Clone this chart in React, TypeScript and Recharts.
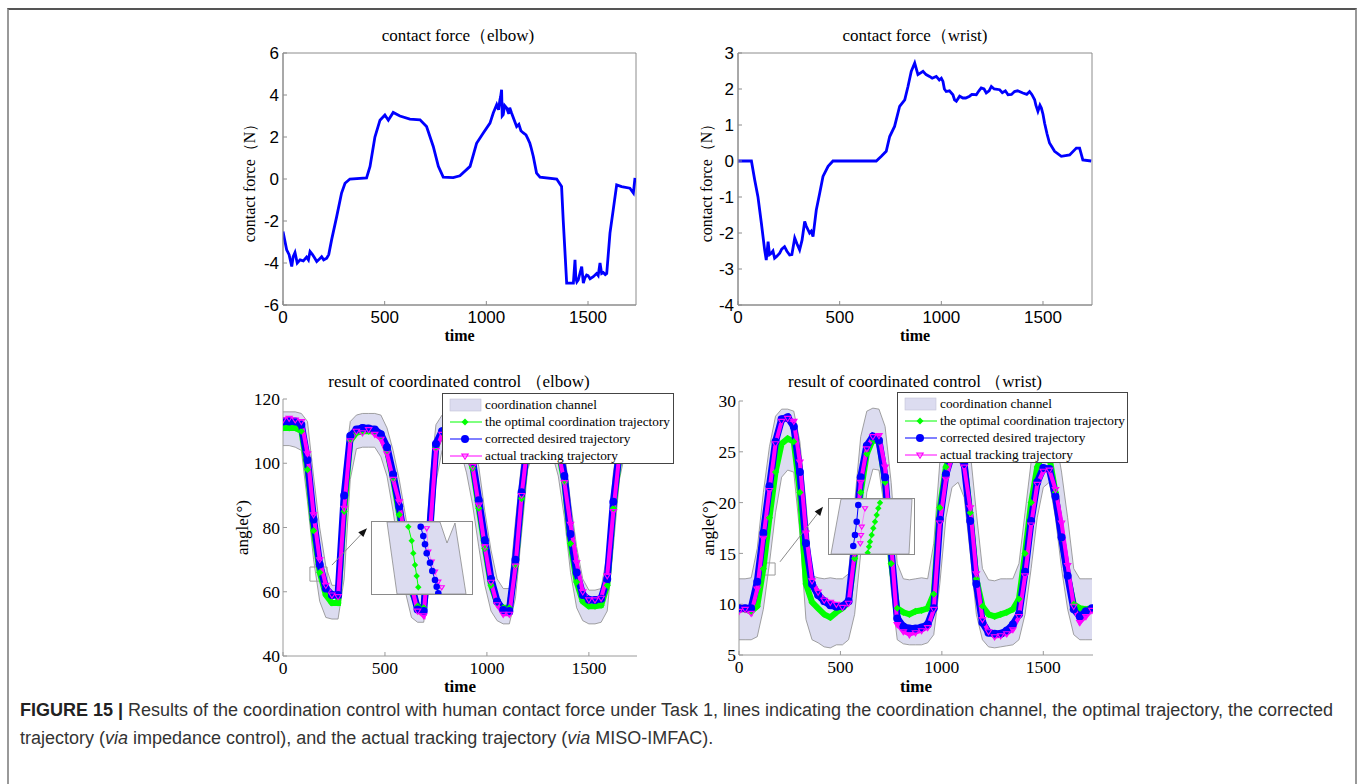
import React from 'react';
import {
  ComposedChart,
  LineChart,
  Line,
  Area,
  XAxis,
  YAxis,
  Legend,
  ReferenceArea,
  ReferenceLine,
} from 'recharts';

const SERIF = '"Liberation Serif", "Times New Roman", serif';
const SANS = '"Liberation Sans", Arial, sans-serif';
const CHANNEL_FILL = '#dcdcf0';

// ---- top row: contact force (N) ----
const elbowForceTime = [0, 18, 30, 43, 50, 59, 70, 84, 100, 116, 125, 133, 145, 155, 166, 175, 190, 200, 215, 225, 239, 264, 288, 305, 329, 411, 428, 452, 477, 501, 518, 542, 575, 624, 674, 706, 739, 764, 788, 837, 870, 920, 952, 985, 1018, 1034, 1051, 1060, 1067, 1070, 1075, 1078, 1083, 1090, 1100, 1110, 1115, 1124, 1149, 1160, 1170, 1182, 1195, 1205, 1214, 1220, 1231, 1247, 1264, 1346, 1370, 1378, 1387, 1395, 1428, 1436, 1440, 1445, 1452, 1460, 1469, 1477, 1485, 1493, 1500, 1510, 1526, 1542, 1550, 1559, 1567, 1575, 1585, 1592, 1608, 1624, 1641, 1665, 1706, 1723, 1731];
const elbowForceValue = [-2.5, -3.37, -3.6, -4.17, -3.7, -3.5, -4.0, -3.85, -3.9, -3.72, -3.85, -3.45, -3.6, -3.75, -3.93, -3.85, -3.7, -3.85, -3.77, -3.6, -2.9, -1.79, -0.67, -0.2, 0, 0.05, 0.6, 2.0, 2.8, 3.05, 2.8, 3.17, 3.0, 2.85, 2.82, 2.5, 1.55, 0.6, 0.09, 0.07, 0.15, 0.6, 1.7, 2.19, 2.66, 3.14, 3.54, 3.3, 3.78, 3.9, 4.25, 3.0, 3.06, 3.5, 3.38, 3.1, 3.4, 3.14, 2.5, 2.6, 2.3, 2.19, 2.1, 1.9, 1.7, 1.5, 1.07, 0.28, 0.09, 0, -0.36, -1.95, -3.53, -4.96, -4.96, -3.85, -4.7, -4.9, -4.8, -4.5, -4.17, -4.96, -4.7, -4.57, -4.6, -4.75, -4.65, -4.5, -4.6, -4.0, -4.5, -4.45, -4.55, -4.5, -2.58, -1.47, -0.28, -0.36, -0.44, -0.67, 0.05];

const wristForceTime = [0, 66, 82, 98, 115, 131, 139, 148, 155, 164, 172, 180, 190, 205, 215, 229, 240, 254, 265, 279, 290, 303, 315, 328, 335, 352, 360, 369, 385, 402, 418, 443, 467, 680, 705, 729, 746, 770, 795, 820, 836, 852, 869, 885, 910, 925, 942, 955, 975, 990, 1000, 1008, 1015, 1024, 1040, 1057, 1065, 1074, 1090, 1106, 1120, 1139, 1150, 1172, 1185, 1196, 1210, 1221, 1235, 1246, 1260, 1287, 1300, 1315, 1328, 1345, 1360, 1375, 1401, 1420, 1434, 1445, 1459, 1465, 1475, 1485, 1492, 1500, 1508, 1520, 1532, 1557, 1590, 1631, 1664, 1680, 1696, 1737];
const wristForceValue = [0, 0, -0.52, -0.99, -1.73, -2.47, -2.75, -2.24, -2.6, -2.56, -2.5, -2.7, -2.65, -2.56, -2.45, -2.38, -2.5, -2.61, -2.6, -2.14, -2.3, -2.47, -2.2, -1.68, -1.8, -2.0, -1.95, -2.1, -1.36, -0.89, -0.43, -0.15, 0, 0, 0.13, 0.27, 0.68, 0.96, 1.52, 1.7, 2.07, 2.49, 2.72, 2.4, 2.49, 2.4, 2.35, 2.3, 2.35, 2.25, 2.3, 2.21, 2.0, 1.93, 1.95, 1.84, 1.7, 1.66, 1.8, 1.75, 1.75, 1.8, 1.85, 1.84, 1.95, 2.03, 2.0, 1.89, 1.95, 2.07, 2.0, 1.98, 1.9, 1.95, 1.84, 1.85, 1.93, 1.95, 1.89, 1.85, 1.93, 1.85, 1.7, 1.55, 1.38, 1.55, 1.47, 1.3, 1.05, 0.75, 0.5, 0.27, 0.13, 0.17, 0.36, 0.36, 0.03, 0];

const timeTicks = [0, 500, 1000, 1500];
const elbowForceTicks = [-6, -4, -2, 0, 2, 4, 6];
const wristForceTicks = [-4, -3, -2, -1, 0, 1, 2, 3];

// ---- bottom row: joint angles (deg) ----
const angleTime = [0, 30, 60, 90, 120, 150, 180, 210, 240, 270, 300, 330, 360, 390, 420, 450, 480, 510, 540, 570, 600, 630, 660, 690, 720, 750, 780, 810, 840, 870, 900, 930, 960, 990, 1020, 1050, 1080, 1110, 1140, 1170, 1200, 1230, 1260, 1290, 1320, 1350, 1380, 1410, 1440, 1470, 1500, 1530, 1560, 1590, 1620, 1650, 1680, 1710, 1740];

const elbowOptimal = [111, 111, 111, 110, 98, 79, 66, 59, 56.5, 56.5, 85, 107, 109.5, 110, 110, 110, 108.5, 104, 95, 84, 71, 60, 55.5, 55, 80, 105, 109.5, 110, 110, 109, 105, 98.5, 86, 73.5, 62, 56.5, 55, 55, 68, 89, 106, 109.5, 110, 110, 109, 104, 94, 75, 63, 57, 55.5, 55.5, 55.8, 62, 86, 102, 109, 110, 110];
const elbowCorrected = [113, 113, 113, 112, 101, 82.5, 68.5, 61, 59, 59, 90, 108.5, 110.5, 111, 110.8, 110.5, 109, 105, 96.5, 86.5, 74, 62, 54.5, 54, 80, 106, 110, 111, 111, 110, 107, 100.5, 88.5, 76, 64, 57, 54.3, 54, 70, 91, 107, 110.5, 111, 111, 110, 106, 96, 78, 66, 59, 57.5, 57.4, 57.8, 64, 88, 104, 110, 111, 111];
const elbowActual = [113.5, 114, 113.5, 113, 103, 84, 70, 62, 59, 58.5, 86, 107, 110, 109.5, 110.5, 109, 107.5, 103, 95, 88, 75, 62, 54, 52.5, 78, 104, 109, 110.5, 110, 109.5, 105, 99, 87, 74, 63, 56, 53, 53, 68, 90, 106, 110, 111, 110.5, 109, 104, 94, 81, 69, 60, 57.5, 57.5, 58, 65, 85, 103, 110, 111, 111];
const elbowChannelLow = [105.5, 105.5, 105, 104, 88, 70, 57, 52, 51.5, 51.5, 64, 95, 104.5, 105, 105, 105, 102, 96, 85, 72, 60, 52, 50.5, 50.5, 62, 94, 104, 105, 105, 104, 97, 87, 74, 62, 54, 51, 50, 50, 58, 78, 98, 104, 105, 105, 103, 96, 83, 66, 55, 51, 50, 50, 50.5, 54, 74, 95, 104, 105, 105];
const elbowChannelHigh = [116, 116, 116, 115.5, 113, 96, 80, 68, 62, 62, 98, 113, 115, 115.5, 115.5, 115.5, 115, 111, 104, 95, 84, 72, 62, 61, 94, 112, 115, 115.5, 115.5, 115, 112, 107, 99, 85, 73, 64, 61, 61, 82, 100, 112, 115, 115.5, 115.5, 115, 111, 104, 88, 74, 64, 60.5, 60.5, 61, 72, 97, 110, 115, 115.5, 115.5];

const wristOptimal = [9.5, 9.5, 9.3, 9.8, 13.5, 18.5, 23, 25.8, 26.3, 26, 21, 12, 10.2, 9.6, 9, 8.7, 9.2, 9.6, 10.2, 14.5, 21, 24.8, 26.2, 26, 22, 14, 9.6, 9.2, 9, 9.3, 9.4, 9.6, 11, 19.5, 23.5, 25, 25, 24, 19, 12.5, 9.8, 9, 8.8, 9, 9.2, 9.5, 10.5, 15, 20, 23.5, 24.8, 24.5, 21, 16.5, 12.8, 10, 9.6, 9.5, 9.6];
const wristCorrected = [9.6, 9.6, 9.6, 12.2, 17, 21.6, 26, 28.2, 28.4, 27.5, 23, 16, 12, 10.9, 10.3, 9.9, 9.75, 9.8, 10.3, 15.8, 22.5, 25.6, 26.5, 26.1, 22.5, 15.3, 8.6, 7.8, 7.6, 7.6, 7.7, 8, 9.6, 18.3, 22.8, 24.8, 24.8, 23.8, 18.2, 12, 8.2, 7.2, 7.1, 7.1, 7.4, 8, 9, 13.2, 18.2, 22, 23.4, 23.3, 20.6, 16.6, 12.8, 9.5, 8.8, 9.3, 9.6];
const wristActual = [9.3, 9.5, 9.1, 11.5, 16.5, 21.2, 25.8, 28, 28.3, 28, 24, 17, 12.3, 11.2, 10.4, 10.2, 10, 9.7, 10.1, 15, 22, 25.3, 26.5, 26.6, 23.5, 16, 8, 7.3, 7, 7.2, 7.4, 7.7, 9.5, 18, 22.3, 24.6, 24.6, 23.5, 19.5, 13, 8.5, 7.3, 6.8, 6.9, 7.1, 7.5, 8.8, 12.8, 17.8, 21.8, 23.1, 23.2, 21.3, 18, 13.8, 9.8, 8.2, 8.8, 9.4];
const wristChannelLow = [6.5, 6.5, 6.5, 6.8, 9.5, 14, 19, 22.5, 23.2, 23, 17, 8.5, 6.5, 6.2, 5.8, 5.7, 6, 6, 6.5, 9, 15, 21, 23.3, 23.2, 19, 11.5, 6.5, 6.1, 6, 6, 6, 6.2, 7, 12, 18.5, 21.5, 22, 20.5, 15, 9, 6.5, 5.8, 5.7, 5.8, 5.9, 6, 6.5, 9, 13.5, 18.5, 21.5, 22, 18.5, 13.5, 9.5, 7, 6.5, 6.5, 6.5];
const wristChannelHigh = [12.5, 12.5, 12.6, 15.5, 21, 25.5, 28.5, 29.2, 29.2, 29, 26, 20, 12.8, 12.6, 12.5, 12.6, 12.5, 12.5, 13, 20, 26.5, 29, 29.3, 29.2, 27.5, 22, 14, 12.5, 12.4, 12.5, 12.6, 12.5, 16, 24, 27.5, 28.5, 28.5, 28, 25, 19, 13.5, 12.4, 12.3, 12.5, 12.5, 12.5, 14, 19, 24, 27, 28, 28, 26.5, 23, 18.5, 13.5, 12.5, 12.5, 12.5];

const elbowAngleTicks = [40, 60, 80, 100, 120];
const wristAngleTicks = [5, 10, 15, 20, 25, 30];

// ---- magnified insets (local coordinates of the inset box) ----
const elbowInsetBandX = [15, 25, 68, 75, 83, 94];
const elbowInsetBandLow = [72, 0, 0, 0, 0, 0];
const elbowInsetBandHigh = [72, 72, 72, 51, 71, 0];
const elbowInsetOptimalX = [36.3, 39.7, 41.3, 43, 44.7, 46.3];
const elbowInsetOptimalY = [67.3, 53.3, 40.7, 29, 18, 6.7];
const elbowInsetCorrectedX = [48.7, 51.3, 53, 54.7, 58, 60.3, 63, 64.7, 66.3];
const elbowInsetCorrectedY = [67.3, 58, 49.7, 40.7, 31.3, 23, 14, 7.3, 0.7];
const elbowInsetActualX = [54.7, 56.3, 59.7, 63, 66.3, 69.7];
const elbowInsetActualY = [65.7, 42.3, 32.3, 22.3, 12.3, 6.7];

const wristInsetBandX = [2, 12, 80, 83];
const wristInsetBandLow = [0, 0, 0, 55];
const wristInsetBandHigh = [0, 55, 55, 55];
const wristInsetOptimalX = [51, 49.3, 47.7, 46, 44.3, 42.7, 41, 40, 38.7];
const wristInsetOptimalY = [51.3, 45.7, 39, 32.3, 25.7, 19, 12.3, 7.3, 1.3];
const wristInsetCorrectedX = [29.3, 27.7, 26, 24.3];
const wristInsetCorrectedY = [49, 32.3, 19, 8];
const wristInsetActualX = [36, 32.7, 32, 31.3];
const wristInsetActualY = [45.7, 27.3, 19, 10.7];

const legendOrder = [
  'coordination channel',
  'the optimal coordination trajectory',
  'corrected desired trajectory',
  'actual tracking trajectory',
];

// ---- markers ----
const diamondDot = (s: number) => (p: any) => (
  <polygon
    key={`dm${p.index}`}
    points={`${p.cx},${p.cy - s} ${p.cx + s},${p.cy} ${p.cx},${p.cy + s} ${p.cx - s},${p.cy}`}
    fill="#00ff00"
  />
);
const circleDot = (r: number) => (p: any) => (
  <circle key={`c${p.index}`} cx={p.cx} cy={p.cy} r={r} fill="#0000ff" />
);
const triangleDot = (s: number) => (p: any) => (
  <polygon
    key={`t${p.index}`}
    points={`${p.cx - s},${p.cy - s * 0.6} ${p.cx + s},${p.cy - s * 0.6} ${p.cx},${p.cy + s}`}
    fill="none"
    stroke="#ff00ff"
    strokeWidth={1.1}
  />
);

function LegendIcon({ type }: { type: string }) {
  if (type === 'rect') {
    return (
      <svg width={34} height={14}>
        <rect x={1} y={1} width={31} height={12} fill={CHANNEL_FILL} stroke="#c4c4d6" strokeWidth={0.6} />
      </svg>
    );
  }
  const color = type === 'diamond' ? '#00ff00' : type === 'circle' ? '#0000ff' : '#ff00ff';
  const p = { cx: 16, cy: 7, index: 0 };
  return (
    <svg width={34} height={14}>
      <line x1={1} y1={7} x2={33} y2={7} stroke={color} strokeWidth={1} />
      {type === 'diamond' && diamondDot(3.5)(p)}
      {type === 'circle' && circleDot(4)(p)}
      {type === 'triangle' && triangleDot(3.2)(p)}
    </svg>
  );
}

const renderLegend = (props: any) => {
  const items = [...(props.payload ?? [])].sort(
    (a: any, b: any) => legendOrder.indexOf(a.value) - legendOrder.indexOf(b.value),
  );
  return (
    <div
      style={{
        width: '100%',
        height: '100%',
        boxSizing: 'border-box',
        background: '#fff',
        border: '1px solid #444',
        padding: '2px 0 0 6px',
        fontFamily: SERIF,
        fontSize: 13.3,
        color: '#000',
      }}
    >
      {items.map((it: any) => (
        <div key={it.value} style={{ display: 'flex', alignItems: 'center', height: 17.2, whiteSpace: 'nowrap' }}>
          <LegendIcon type={it.type} />
          <span style={{ marginLeft: 2 }}>{it.value}</span>
        </div>
      ))}
    </div>
  );
};

const ArrowShape = (props: any) => {
  const { x1, y1, x2, y2 } = props;
  const ang = Math.atan2(y2 - y1, x2 - x1);
  const len = 9;
  const w = 3.5;
  const bx = x2 - len * Math.cos(ang);
  const by = y2 - len * Math.sin(ang);
  const pts = `${x2},${y2} ${bx - w * Math.sin(ang)},${by + w * Math.cos(ang)} ${bx + w * Math.sin(ang)},${by - w * Math.cos(ang)}`;
  return (
    <g>
      <line x1={x1} y1={y1} x2={bx} y2={by} stroke="#8a8a8a" strokeWidth={1} />
      <polygon points={pts} fill="#111" />
    </g>
  );
};

interface ForceProps {
  time: number[];
  value: number[];
  xMax: number;
  yTicks: number[];
  yAxisWidth: number;
  marginLeft: number;
  marginRight: number;
}

function ForceChart({ time, value, xMax, yTicks, yAxisWidth, marginLeft, marginRight }: ForceProps) {
  const data = time.map((t, i) => ({ t, f: value[i] }));
  const axisStroke = '#8c8c8c';
  const tick = { fill: '#000', fontSize: 17, fontFamily: SANS };
  const yMin = yTicks[0];
  const yMax = yTicks[yTicks.length - 1];
  return (
    <LineChart width={470} height={350} data={data} margin={{ top: 43, right: marginRight, bottom: 15, left: marginLeft }}>
      <XAxis
        dataKey="t"
        type="number"
        domain={[0, xMax]}
        ticks={timeTicks}
        allowDataOverflow
        height={40}
        tickSize={-4}
        tickMargin={10}
        stroke={axisStroke}
        tick={tick}
        label={{ value: 'time', position: 'insideBottom', offset: 4, fill: '#000', fontSize: 16, fontWeight: 'bold', fontFamily: SERIF }}
      />
      <YAxis
        type="number"
        domain={[yMin, yMax]}
        ticks={yTicks}
        allowDataOverflow
        width={yAxisWidth}
        tickSize={-4}
        tickMargin={8}
        stroke={axisStroke}
        tick={tick}
        label={{ value: 'contact force（N）', angle: -90, position: 'center', fill: '#000', fontSize: 16, fontFamily: SERIF }}
      />
      <ReferenceArea x1={0} x2={xMax} y1={yMin} y2={yMax} fill="none" stroke={axisStroke} strokeWidth={1} ifOverflow="visible" />
      <Line dataKey="f" type="linear" stroke="#0000ff" strokeWidth={2.8} dot={false} isAnimationActive={false} />
    </LineChart>
  );
}

interface AngleProps {
  low: number[];
  high: number[];
  optimal: number[];
  corrected: number[];
  actual: number[];
  xMax: number;
  yTicks: number[];
  yAxisWidth: number;
  margin: { top: number; right: number; bottom: number; left: number };
  labelOffset: number;
  legendBox: { left: number; top: number; width: number; height: number };
  zoomBox: { x1: number; x2: number; y1: number; y2: number };
  arrow: { x: number; y: number }[];
}

function AngleChart(props: AngleProps) {
  const { low, high, optimal, corrected, actual, xMax, yTicks, yAxisWidth, margin, labelOffset, legendBox, zoomBox, arrow } = props;
  const data = angleTime.map((t, i) => ({
    t,
    channel: [low[i], high[i]],
    optimal: optimal[i],
    corrected: corrected[i],
    actual: actual[i],
  }));
  const axisStroke = '#9a9a9a';
  const tick = { fill: '#000', fontSize: 17.5, fontFamily: SERIF };
  return (
    <ComposedChart width={490} height={330} data={data} margin={margin}>
      <XAxis
        dataKey="t"
        type="number"
        domain={[0, xMax]}
        ticks={timeTicks}
        allowDataOverflow
        height={40}
        tickSize={-4}
        tickMargin={10}
        stroke={axisStroke}
        tick={tick}
        label={{ value: 'time', position: 'insideBottom', offset: labelOffset, fill: '#000', fontSize: 17, fontWeight: 'bold', fontFamily: SERIF }}
      />
      <YAxis
        type="number"
        domain={[yTicks[0], yTicks[yTicks.length - 1]]}
        ticks={yTicks}
        allowDataOverflow
        width={yAxisWidth}
        tickSize={-4}
        tickMargin={7}
        stroke={axisStroke}
        tick={tick}
        label={{ value: 'angle(°)', angle: -90, position: 'center', fill: '#000', fontSize: 17, fontFamily: SERIF }}
      />
      <Area
        dataKey="channel"
        name="coordination channel"
        type="linear"
        stroke="#8a8a8a"
        strokeWidth={0.8}
        fill={CHANNEL_FILL}
        fillOpacity={1}
        legendType="rect"
        isAnimationActive={false}
      />
      <Line dataKey="optimal" name="the optimal coordination trajectory" type="linear" stroke="#00ff00" strokeWidth={6} dot={diamondDot(3.6)} legendType="diamond" isAnimationActive={false} />
      <Line dataKey="corrected" name="corrected desired trajectory" type="linear" stroke="#0000ff" strokeWidth={7} dot={circleDot(4)} legendType="circle" isAnimationActive={false} />
      <Line dataKey="actual" name="actual tracking trajectory" type="linear" stroke="#ff00ff" strokeWidth={4} dot={triangleDot(3.2)} legendType="triangle" isAnimationActive={false} />
      <ReferenceArea x1={zoomBox.x1} x2={zoomBox.x2} y1={zoomBox.y1} y2={zoomBox.y2} fill="none" stroke="#9a9a9a" strokeWidth={1} />
      <ReferenceLine segment={arrow} shape={ArrowShape} />
      <Legend
        layout="vertical"
        align="center"
        verticalAlign="middle"
        wrapperStyle={{ left: legendBox.left, top: legendBox.top, width: legendBox.width, height: legendBox.height }}
        content={renderLegend}
      />
    </ComposedChart>
  );
}

interface InsetProps {
  width: number;
  height: number;
  bandX: number[];
  bandLow: number[];
  bandHigh: number[];
  optX: number[];
  optY: number[];
  corX: number[];
  corY: number[];
  actX: number[];
  actY: number[];
}

function InsetChart({ width, height, bandX, bandLow, bandHigh, optX, optY, corX, corY, actX, actY }: InsetProps) {
  const band = bandX.map((x, i) => ({ x, channel: [bandLow[i], bandHigh[i]] }));
  const opt = optX.map((x, i) => ({ x, y: optY[i] }));
  const cor = corX.map((x, i) => ({ x, y: corY[i] }));
  const act = actX.map((x, i) => ({ x, y: actY[i] }));
  return (
    <ComposedChart width={width} height={height} data={band} margin={{ top: 0, right: 0, bottom: 0, left: 0 }}>
      <XAxis dataKey="x" type="number" domain={[0, width]} allowDataOverflow hide />
      <YAxis type="number" domain={[0, height]} allowDataOverflow hide />
      <Area dataKey="channel" type="linear" stroke="#8a8a8a" strokeWidth={0.8} fill={CHANNEL_FILL} fillOpacity={1} isAnimationActive={false} />
      <Line data={opt} dataKey="y" type="linear" stroke="#00ff00" strokeWidth={1} dot={diamondDot(3.2)} isAnimationActive={false} />
      <Line data={act} dataKey="y" type="linear" stroke="#ff66ff" strokeWidth={0.8} dot={triangleDot(2.6)} isAnimationActive={false} />
      <Line data={cor} dataKey="y" type="linear" stroke="#0000ff" strokeWidth={1} dot={circleDot(3.3)} isAnimationActive={false} />
    </ComposedChart>
  );
}

const titleStyle = (cx: number, cy: number): React.CSSProperties => ({
  position: 'absolute',
  left: cx - 250,
  top: cy - 11,
  width: 500,
  textAlign: 'center',
  fontFamily: SERIF,
  fontSize: 17,
  lineHeight: '22px',
  color: '#000',
  whiteSpace: 'nowrap',
});

export default function App() {
  return (
    <div style={{ position: 'absolute', left: 0, top: 0, width: 1362, height: 784, background: '#fff', overflow: 'hidden' }}>
      <div
        style={{
          position: 'absolute',
          left: 7,
          top: 8,
          width: 1346,
          height: 800,
          borderTop: '2px solid #555',
          borderLeft: '2px solid #999',
          borderRight: '2px solid #999',
        }}
      />

      <div style={titleStyle(458, 36)}>contact force（elbow)</div>
      <div style={titleStyle(915, 36)}>contact force（wrist)</div>
      <div style={titleStyle(459, 382)}>result of coordinated control （elbow)</div>
      <div style={titleStyle(915, 382)}>result of coordinated control （wrist)</div>

      <div style={{ position: 'absolute', left: 200, top: 10 }}>
        <ForceChart time={elbowForceTime} value={elbowForceValue} xMax={1736} yTicks={elbowForceTicks} yAxisWidth={68} marginLeft={15} marginRight={34} />
      </div>
      <div style={{ position: 'absolute', left: 660, top: 10 }}>
        <ForceChart time={wristForceTime} value={wristForceValue} xMax={1741} yTicks={wristForceTicks} yAxisWidth={64} marginLeft={14} marginRight={38} />
      </div>

      <div style={{ position: 'absolute', left: 200, top: 370 }}>
        <AngleChart
          low={elbowChannelLow}
          high={elbowChannelHigh}
          optimal={elbowOptimal}
          corrected={elbowCorrected}
          actual={elbowActual}
          xMax={1736}
          yTicks={elbowAngleTicks}
          yAxisWidth={82}
          margin={{ top: 29, right: 53, bottom: 4, left: 1 }}
          labelOffset={4}
          legendBox={{ left: 242, top: 23, width: 232, height: 71 }}
          zoomBox={{ x1: 132, x2: 216, y1: 63.3, y2: 67.7 }}
          arrow={[{ x: 240, y: 68.3 }, { x: 412, y: 79.8 }]}
        />
      </div>
      <div style={{ position: 'absolute', left: 660, top: 370 }}>
        <AngleChart
          low={wristChannelLow}
          high={wristChannelHigh}
          optimal={wristOptimal}
          corrected={wristCorrected}
          actual={wristActual}
          xMax={1745}
          yTicks={wristAngleTicks}
          yAxisWidth={62}
          margin={{ top: 31, right: 57, bottom: 5, left: 17 }}
          labelOffset={3}
          legendBox={{ left: 237, top: 22, width: 231, height: 71 }}
          zoomBox={{ x1: 94, x2: 178, y1: 12.87, y2: 14.06 }}
          arrow={[{ x: 202, y: 14.17 }, { x: 414, y: 19.6 }]}
        />
      </div>

      <div style={{ position: 'absolute', left: 371, top: 521, border: '1px solid #8a8a8a', background: '#fff', lineHeight: 0 }}>
        <InsetChart
          width={100}
          height={72}
          bandX={elbowInsetBandX}
          bandLow={elbowInsetBandLow}
          bandHigh={elbowInsetBandHigh}
          optX={elbowInsetOptimalX}
          optY={elbowInsetOptimalY}
          corX={elbowInsetCorrectedX}
          corY={elbowInsetCorrectedY}
          actX={elbowInsetActualX}
          actY={elbowInsetActualY}
        />
      </div>
      <div style={{ position: 'absolute', left: 828, top: 498, border: '1px solid #8a8a8a', background: '#fff', lineHeight: 0 }}>
        <InsetChart
          width={85}
          height={55}
          bandX={wristInsetBandX}
          bandLow={wristInsetBandLow}
          bandHigh={wristInsetBandHigh}
          optX={wristInsetOptimalX}
          optY={wristInsetOptimalY}
          corX={wristInsetCorrectedX}
          corY={wristInsetCorrectedY}
          actX={wristInsetActualX}
          actY={wristInsetActualY}
        />
      </div>

      <div
        style={{
          position: 'absolute',
          left: 20,
          top: 696,
          fontFamily: SANS,
          fontSize: 18,
          lineHeight: '28px',
          color: '#333',
          whiteSpace: 'nowrap',
        }}
      >
        <div>
          <b style={{ color: '#222' }}>FIGURE 15 |</b> Results of the coordination control with human contact force under Task 1, lines indicating the coordination channel, the optimal trajectory, the corrected
        </div>
        <div>
          trajectory (<i>via</i> impedance control), and the actual tracking trajectory (<i>via</i> MISO-IMFAC).
        </div>
      </div>
    </div>
  );
}
